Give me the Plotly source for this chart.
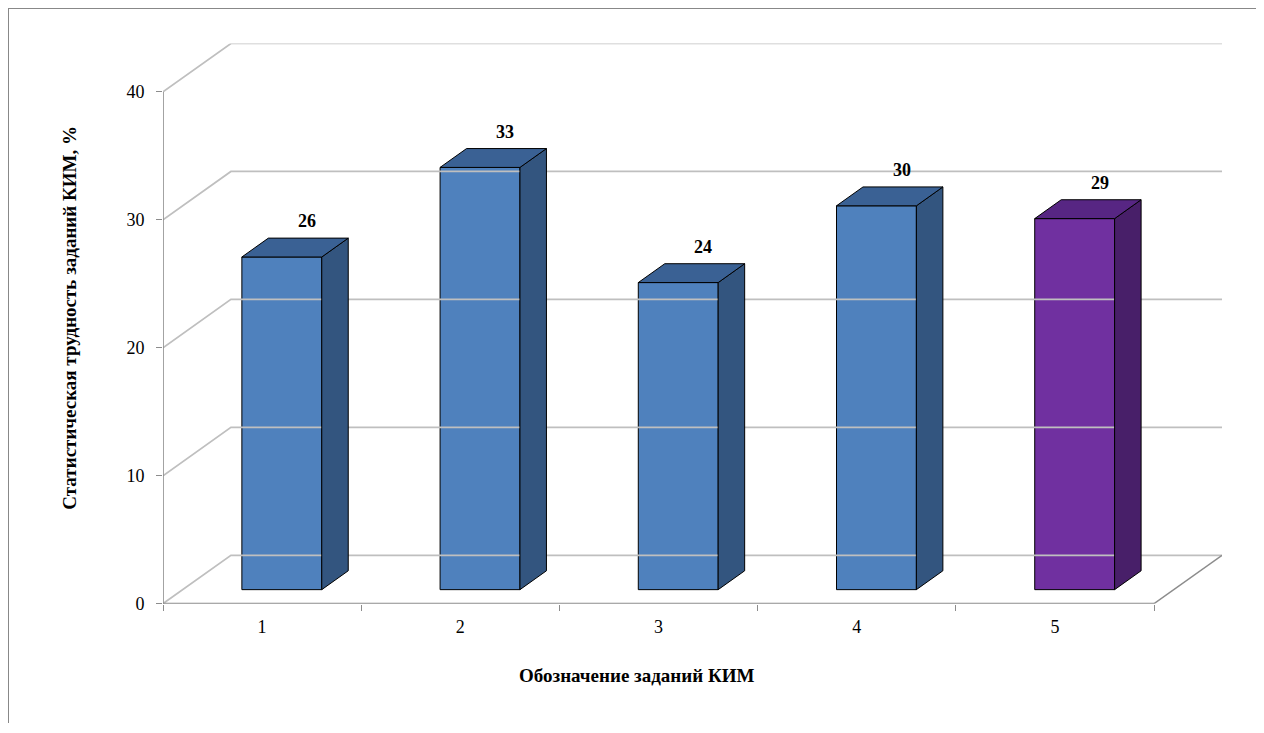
import plotly.graph_objects as go

# ---- data ----
categories = ["1", "2", "3", "4", "5"]
values = [26, 33, 24, 30, 29]
front_colors = ["#4F81BD", "#4F81BD", "#4F81BD", "#4F81BD", "#7030A0"]
side_colors = ["#33557F", "#33557F", "#33557F", "#33557F", "#481F69"]
top_colors = ["#3A6194", "#3A6194", "#3A6194", "#3A6194", "#572683"]
y_ticks = [0, 10, 20, 30, 40]
y_title = "Статистическая трудность заданий КИМ, %"
x_title = "Обозначение заданий КИМ"

# ---- pseudo-3D projection settings (style) ----
DX = 0.3427      # horizontal offset of full depth, category units
DY = 3.78        # vertical offset of full depth, value units
D0, D1 = 0.29, 0.68   # bar front / back depth fractions
DL = 0.66        # label depth position
BW = 0.403       # bar width (category units)
n = len(categories)
FONT = "Liberation Serif, Times New Roman, serif"
GRID = "#BFBFBF"
AXIS = "#8C8C8C"

# page geometry: figure starts at page (8, 8) because of the body margin
OFF = 8
FW, FH = 1264 - OFF, 733 - OFF
ML, MT = 1, 1                       # tiny margin: paper area = whole figure
AL, AT = OFF + ML, OFF + MT         # paper area left/top in page pixels
AW, AH = FW - ML, FH - MT           # paper area size
PL, PR, PT, PB = 163, 1222, 44, 612  # main plot area in page pixels


def px(xp):
    return (xp - AL) / AW


def py(yp):
    return (AT + AH - yp) / AH


fig = go.Figure()

# chart-area border subplot (its axis lines form top and left border)
fig.add_trace(go.Scatter(x=[None], y=[None], xaxis="x2", yaxis="y2", mode="lines",
                         hoverinfo="skip", showlegend=False))

# gridlines: left wall diagonals + back wall lines
for v in y_ticks:
    fig.add_trace(go.Scatter(x=[0, DX, n + DX], y=[v, v + DY, v + DY], mode="lines",
                             line=dict(color=GRID, width=1.7), hoverinfo="skip", showlegend=False))
# floor right edge
fig.add_trace(go.Scatter(x=[n, n + DX], y=[0, DY], mode="lines",
                         line=dict(color=AXIS, width=1.4), hoverinfo="skip", showlegend=False))
# front axes
fig.add_trace(go.Scatter(x=[0, n], y=[0, 0], mode="lines",
                         line=dict(color=AXIS, width=1.6), hoverinfo="skip", showlegend=False))
fig.add_trace(go.Scatter(x=[0, 0], y=[0, y_ticks[-1]], mode="lines",
                         line=dict(color=AXIS, width=1.6), hoverinfo="skip", showlegend=False))

# side and top faces
for i, v in enumerate(values):
    c = i + 0.5
    xl = c - BW / 2
    xr = c + BW / 2
    sx = [xr + D0 * DX, xr + D1 * DX, xr + D1 * DX, xr + D0 * DX, xr + D0 * DX]
    sy = [D0 * DY, D1 * DY, v + D1 * DY, v + D0 * DY, D0 * DY]
    fig.add_trace(go.Scatter(x=sx, y=sy, mode="lines", fill="toself", fillcolor=side_colors[i],
                             line=dict(color="#000000", width=1), hoverinfo="skip", showlegend=False))
    tx = [xl + D0 * DX, xr + D0 * DX, xr + D1 * DX, xl + D1 * DX, xl + D0 * DX]
    ty = [v + D0 * DY, v + D0 * DY, v + D1 * DY, v + D1 * DY, v + D0 * DY]
    fig.add_trace(go.Scatter(x=tx, y=ty, mode="lines", fill="toself", fillcolor=top_colors[i],
                             line=dict(color="#000000", width=1), hoverinfo="skip", showlegend=False))

# front faces
fig.add_trace(go.Bar(x=[i + 0.5 + D0 * DX for i in range(n)], y=values,
                     base=[D0 * DY] * n, width=BW,
                     marker=dict(color=front_colors, line=dict(color="#000000", width=1)),
                     hoverinfo="skip", showlegend=False))

annotations = []
# data labels
for i, v in enumerate(values):
    annotations.append(dict(text="<b>%d</b>" % v, x=i + 0.5 + DL * DX, y=v + D1 * DY,
                            xref="x", yref="y", showarrow=False, xanchor="center",
                            yanchor="bottom", yshift=5,
                            font=dict(family=FONT, size=18, color="#000000")))
annotations += [
    dict(text="<b>" + y_title + "</b>", xref="paper", yref="paper",
         x=px(70), y=py(322), textangle=-90,
         showarrow=False, xanchor="center", yanchor="middle",
         font=dict(family=FONT, size=19, color="#000000")),
    dict(text="<b>" + x_title + "</b>", xref="paper", yref="paper",
         x=px(636), y=py(685),
         showarrow=False, xanchor="center", yanchor="middle",
         font=dict(family=FONT, size=19, color="#000000")),
]

fig.update_layout(
    width=FW, height=FH,
    margin=dict(l=ML, r=0, t=MT, b=0, pad=0),
    paper_bgcolor="white", plot_bgcolor="rgba(0,0,0,0)",
    barmode="overlay",
    xaxis=dict(domain=[px(PL), px(PR)], anchor="y",
               range=[0, n + DX], showgrid=False, zeroline=False, showline=False,
               tickmode="array", tickvals=[i + 0.5 for i in range(n)], ticktext=categories,
               ticks="", ticklabelstandoff=10,
               tickfont=dict(family=FONT, size=18, color="#000000"),
               minor=dict(tickmode="array", tickvals=list(range(n + 1)), ticks="outside",
                          ticklen=6, tickcolor=AXIS, tickwidth=1.4, showgrid=False)),
    yaxis=dict(domain=[py(PB), py(PT)], anchor="x",
               range=[0, y_ticks[-1] + DY], showgrid=False, zeroline=False, showline=False,
               tickmode="array", tickvals=y_ticks, ticks="outside", ticklen=6,
               tickcolor=AXIS, tickwidth=1.4, ticklabelstandoff=8,
               tickfont=dict(family=FONT, size=18, color="#000000")),
    xaxis2=dict(domain=[0, 1], anchor="y2", side="top", range=[0, 1],
                showline=True, linecolor="#888888", linewidth=2,
                showgrid=False, zeroline=False, showticklabels=False, ticks="",
                fixedrange=True),
    yaxis2=dict(domain=[0, 1], anchor="x2", side="left", range=[0, 1],
                showline=True, linecolor="#888888", linewidth=2,
                showgrid=False, zeroline=False, showticklabels=False, ticks="",
                fixedrange=True),
    annotations=annotations,
)

fig.write_html("out.html", post_script="document.body.style.overflow='hidden';")
